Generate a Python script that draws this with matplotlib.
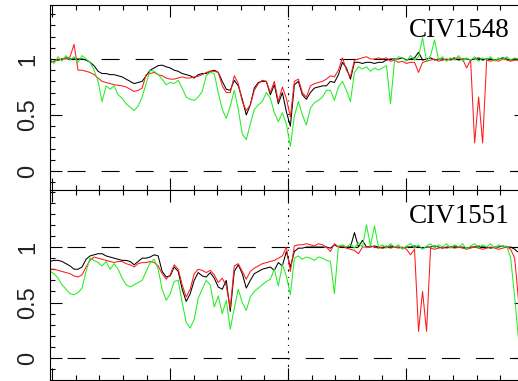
import matplotlib.pyplot as plt
import numpy as np
from matplotlib.ticker import MultipleLocator

plt.rcParams['lines.scale_dashes'] = False

# velocity grid of the spectra (km/s), one point per channel
velocity = np.arange(-2020, 1980, 34)

# CIV 1548 normalised flux, three epochs
civ1548_black = [
    0.97, 0.98, 0.99, 1.00, 1.01, 1.00, 1.00, 1.00, 1.00, 0.99,
    0.97, 0.94, 0.89, 0.87, 0.87, 0.86, 0.86, 0.85, 0.84, 0.82,
    0.80, 0.78, 0.79, 0.80, 0.85, 0.90, 0.92, 0.94, 0.945, 0.93,
    0.92, 0.90, 0.89, 0.87, 0.86, 0.85, 0.83, 0.86, 0.87, 0.87,
    0.89, 0.90, 0.88, 0.80, 0.73, 0.72, 0.81, 0.76, 0.64, 0.50,
    0.59, 0.74, 0.79, 0.80, 0.80, 0.68, 0.77, 0.60, 0.70, 0.53,
    0.40, 0.77, 0.80, 0.68, 0.64, 0.70, 0.74, 0.75, 0.76, 0.76,
    0.80, 0.79, 0.86, 0.97, 0.92, 0.82, 0.97, 0.97, 0.96, 0.97,
    0.97, 0.96, 0.97, 0.97, 0.99, 1.00, 1.00, 1.00, 1.01, 0.99,
    1.00, 1.01, 1.06, 0.99, 1.00, 1.01, 0.99, 1.00, 1.00, 0.99,
    1.00, 1.01, 0.99, 1.00, 1.00, 0.99, 1.00, 1.01, 0.99, 1.00,
    1.00, 0.99, 1.00, 1.01, 1.00, 0.99, 1.00, 1.00]
civ1548_red = [
    0.97, 0.98, 0.99, 1.00, 1.00, 1.02, 1.13, 0.90, 0.90, 0.89,
    0.88, 0.86, 0.83, 0.80, 0.79, 0.78, 0.77, 0.765, 0.76, 0.75,
    0.73, 0.71, 0.72, 0.74, 0.86, 0.87, 0.88, 0.86, 0.85, 0.83,
    0.82, 0.82, 0.83, 0.84, 0.83, 0.83, 0.84, 0.845, 0.86, 0.88,
    0.89, 0.89, 0.88, 0.76, 0.70, 0.70, 0.85, 0.78, 0.62, 0.54,
    0.59, 0.72, 0.78, 0.81, 0.80, 0.70, 0.80, 0.62, 0.75, 0.65,
    0.48, 0.80, 0.82, 0.70, 0.66, 0.76, 0.78, 0.79, 0.80, 0.82,
    0.85, 0.84, 0.90, 1.01, 0.90, 0.84, 0.99, 1.00, 1.01, 1.02,
    1.00, 1.00, 1.01, 1.00, 1.01, 0.98, 0.99, 0.97, 0.98, 0.96,
    0.97, 0.97, 0.88, 0.97, 0.98, 0.99, 1.00, 0.98, 0.99, 1.00,
    0.99, 1.00, 1.01, 1.00, 0.92, 0.99, 0.25, 0.66, 0.25, 0.99,
    0.98, 0.99, 0.98, 1.00, 0.99, 0.98, 0.99, 0.99]
civ1548_green = [
    1.00, 0.96, 1.02, 0.98, 1.03, 0.99, 1.02, 0.97, 1.03, 1.00,
    0.97, 0.90, 0.80, 0.62, 0.76, 0.73, 0.76, 0.68, 0.65, 0.60,
    0.57, 0.54, 0.58, 0.66, 0.78, 0.90, 0.89, 0.86, 0.82, 0.77,
    0.79, 0.78, 0.81, 0.74, 0.66, 0.64, 0.63, 0.66, 0.71, 0.85,
    0.88, 0.87, 0.70, 0.55, 0.47, 0.58, 0.72, 0.55, 0.33, 0.28,
    0.42, 0.55, 0.59, 0.62, 0.70, 0.65, 0.52, 0.44, 0.52, 0.42,
    0.22, 0.49, 0.62, 0.50, 0.41, 0.56, 0.61, 0.63, 0.66, 0.72,
    0.72, 0.63, 0.75, 0.80, 0.72, 0.62, 0.88, 0.93, 0.91, 0.93,
    0.89, 0.92, 0.90, 0.92, 0.94, 0.60, 0.98, 1.02, 1.01, 0.98,
    1.03, 0.99, 1.02, 1.19, 0.98, 1.03, 1.17, 0.99, 1.02, 0.98,
    1.01, 0.99, 1.03, 0.98, 1.01, 0.99, 1.02, 0.98, 1.01, 0.99,
    1.02, 0.98, 1.01, 0.99, 1.02, 0.99, 1.01, 1.00]

# CIV 1551 normalised flux, same epochs
civ1551_black = [
    0.87, 0.88, 0.88, 0.87, 0.85, 0.83, 0.80, 0.80, 0.82, 0.89,
    0.92, 0.93, 0.94, 0.94, 0.92, 0.91, 0.90, 0.89, 0.88, 0.88,
    0.87, 0.84, 0.87, 0.90, 0.90, 0.91, 0.93, 0.92, 0.78, 0.73,
    0.74, 0.82, 0.78, 0.62, 0.51, 0.58, 0.70, 0.77, 0.74, 0.73,
    0.77, 0.72, 0.64, 0.62, 0.70, 0.42, 0.78, 0.84, 0.76, 0.63,
    0.70, 0.76, 0.78, 0.80, 0.81, 0.82, 0.79, 0.86, 0.83, 0.96,
    0.82, 0.96, 0.99, 0.99, 1.00, 1.00, 1.00, 1.00, 1.00, 1.00,
    0.99, 1.02, 1.00, 1.00, 1.00, 1.00, 1.13, 1.00, 1.06, 1.00,
    1.00, 1.01, 1.00, 0.99, 1.00, 1.01, 1.00, 1.00, 0.99, 1.00,
    1.00, 1.01, 1.00, 0.99, 1.00, 1.00, 1.01, 1.00, 0.99, 1.00,
    1.00, 1.01, 1.00, 1.00, 0.99, 1.00, 1.00, 1.01, 1.00, 1.00,
    0.99, 1.00, 1.00, 1.01, 1.00, 1.00, 0.98, 0.95]
civ1551_red = [
    0.80, 0.80, 0.79, 0.78, 0.77, 0.76, 0.74, 0.73, 0.75, 0.82,
    0.88, 0.91, 0.90, 0.89, 0.88, 0.87, 0.86, 0.87, 0.87, 0.85,
    0.84, 0.82, 0.85, 0.86, 0.86, 0.87, 0.86, 0.83, 0.76, 0.71,
    0.75, 0.84, 0.80, 0.66, 0.55, 0.62, 0.76, 0.80, 0.79, 0.77,
    0.79, 0.75, 0.68, 0.72, 0.65, 0.45, 0.83, 0.85, 0.78, 0.71,
    0.78, 0.81, 0.83, 0.85, 0.86, 0.87, 0.88, 0.90, 0.92, 1.00,
    0.78, 1.01, 1.02, 1.02, 1.03, 1.02, 1.01, 1.03, 1.02, 1.00,
    0.96, 1.03, 1.00, 1.01, 0.99, 0.98, 0.97, 0.94, 1.00, 1.00,
    1.01, 1.00, 0.99, 1.00, 1.01, 0.99, 1.00, 0.99, 1.00, 0.98,
    0.93, 0.98, 0.24, 0.60, 0.24, 0.99, 0.98, 0.99, 1.00, 0.99,
    1.00, 0.99, 1.00, 0.99, 0.98, 0.99, 1.00, 0.99, 0.98, 0.99,
    1.00, 0.99, 0.98, 0.99, 1.00, 0.98, 0.90, 0.50]
civ1551_green = [
    0.78, 0.76, 0.72, 0.66, 0.62, 0.58, 0.57, 0.59, 0.63, 0.78,
    0.90, 0.88, 0.86, 0.83, 0.87, 0.80, 0.85, 0.80, 0.72, 0.66,
    0.64, 0.66, 0.68, 0.70, 0.78, 0.86, 0.89, 0.80, 0.62, 0.52,
    0.58, 0.69, 0.70, 0.50, 0.32, 0.27, 0.35, 0.54, 0.62, 0.70,
    0.66, 0.46, 0.56, 0.40, 0.52, 0.26, 0.45, 0.62, 0.50, 0.43,
    0.55, 0.60, 0.63, 0.66, 0.69, 0.71, 0.80, 0.65, 0.84, 0.74,
    0.57, 0.90, 0.92, 0.89, 0.91, 0.90, 0.88, 0.91, 0.90, 0.88,
    0.87, 0.58, 1.01, 1.02, 1.00, 1.03, 0.99, 1.04, 1.00, 1.20,
    1.01, 1.19, 1.00, 1.02, 0.99, 1.03, 1.00, 1.02, 0.98, 1.01,
    1.03, 0.99, 1.02, 0.98, 1.01, 1.03, 0.99, 1.02, 1.00, 1.03,
    0.99, 1.02, 1.00, 1.03, 0.98, 1.01, 1.03, 0.99, 1.02, 1.00,
    1.03, 0.99, 1.02, 1.00, 1.01, 0.90, 0.55, 0.15]

yticks = [0, 0.5, 1]
yticklabels = ["0", "0.5", "1"]


def drawPanel(ax, black, red, green, name, ylim):
    ax.axhline(0, color="black", lw=0.8, ls=(12.2, (13, 11.5)), zorder=1)
    ax.axhline(1, color="black", lw=0.8, ls=(12.2, (13, 11.5)), zorder=1)
    ax.axvline(0, color="black", lw=0.8, ls=(0, (1.5, 3.8, 0.7, 3.8)), zorder=1)
    ax.plot(velocity, black, color="black", lw=0.75)
    ax.plot(velocity, red, color="#ff1a1a", lw=0.75)
    ax.plot(velocity, green, color="#22ee22", lw=0.75)
    ax.set_xlim(-2020, 2020)
    ax.set_ylim(*ylim)
    ax.xaxis.set_major_locator(MultipleLocator(1000))
    ax.xaxis.set_minor_locator(MultipleLocator(200))
    ax.yaxis.set_minor_locator(MultipleLocator(0.1))
    ax.set_yticks(yticks)
    ax.set_yticklabels(yticklabels, rotation=90, va="center",
                       family="Liberation Sans", fontsize=17, color="#222222")
    ax.tick_params(which="both", direction="in", top=True, right=True,
                   labelbottom=False, width=0.8, pad=8)
    ax.tick_params(which="major", length=8.6)
    ax.tick_params(which="minor", length=3.6)
    for spine in ax.spines.values():
        spine.set_linewidth(0.8)
    ax.text(0.966, 0.86, name, transform=ax.transAxes, ha="right", va="center",
            family="Liberation Serif", fontsize=19.5)


fig = plt.figure(figsize=(5.18, 3.81), dpi=100)
top = fig.add_axes([50 / 518, 191 / 381, 476 / 518, 185 / 381])
bottom = fig.add_axes([50 / 518, 1 / 381, 476 / 518, 190 / 381])

drawPanel(top, civ1548_black, civ1548_red, civ1548_green, "CIV1548", (-0.17, 1.482))
drawPanel(bottom, civ1551_black, civ1551_red, civ1551_green, "CIV1551", (-0.198, 1.514))

fig.savefig("out.png", dpi=100)
